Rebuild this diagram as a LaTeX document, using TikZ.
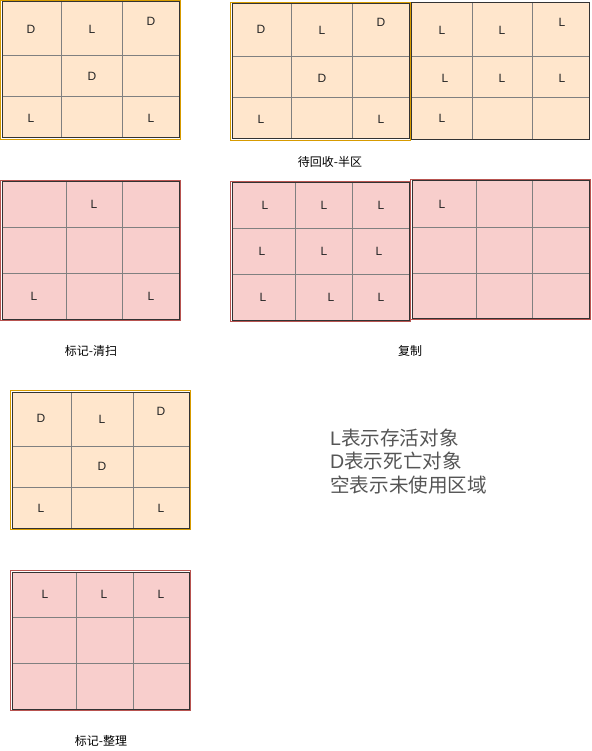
\documentclass[tikz,border=0pt]{standalone}
\usepackage{fontspec}
\setmainfont{Liberation Sans}
\newfontfamily\cjk{Noto Sans CJK SC}
\usetikzlibrary{positioning}
\definecolor{oldfill}{HTML}{FFE6CC}
\definecolor{oldedge}{HTML}{D79B00}
\definecolor{livefill}{HTML}{F8CECC}
\definecolor{liveedge}{HTML}{B85450}
\definecolor{gridgray}{HTML}{808080}
\definecolor{rimdark}{HTML}{333333}
\definecolor{keygray}{HTML}{555555}
% one heap area: fill, corners, two column lines, two row lines
\newcommand{\heap}[9]{%
	\fill[#1] (#2,#3) rectangle (#4,#5);
	\draw[gridline] (#6,#3) -- (#6,#5) (#7,#3) -- (#7,#5) (#2,#8) -- (#4,#8) (#2,#9) -- (#4,#9);
	\draw[darkrim] (#2,#3) rectangle (#4,#5);
}
\tikzset{
	gridline/.style={draw=gridgray, line width=1pt},
	darkrim/.style={draw=rimdark, line width=1pt},
	oldrim/.style={draw=oldedge, line width=1.4pt},
	liverim/.style={draw=liveedge, line width=1.4pt},
	cell/.style={inner sep=0pt, font=\fontsize{12}{12}\selectfont, text=black!85},
	caption/.style={inner sep=0pt, font=\cjk\fontsize{12}{14}\selectfont},
	keyline/.style={inner sep=0pt, anchor=west, text=keygray, font=\cjk\fontsize{19.6}{23}\selectfont}
}
\begin{document}
\begin{tikzpicture}[x=1pt, y=-1pt]
\useasboundingbox (0,0) rectangle (591,751);
% mark and sweep, before
\heap{oldfill}{2}{2}{179}{138}{61}{122}{56}{97}
\draw[oldrim] (0.7,0.7) rectangle (180.3,139.3);
\node[cell] (ms1) at (31,29) {D};
\node[cell] (ms2) at (92,29) {L};
\node[cell] (ms3) at (151,21) {D};
\node[cell] (ms4) at (92,76) {D};
\node[cell] (ms5) at (31,118) {L};
\node[cell] (ms6) at (151,118) {L};
% copying, before
\heap{oldfill}{232}{4}{409}{139}{291}{352}{57}{98}
\draw[oldrim] (230.7,2.7) rectangle (410.3,140.3);
\heap{oldfill}{411}{3}{589}{140}{472}{532}{57}{98}
\node[cell] (cpa1) at (261,29) {D};
\node[cell] (cpa2) at (322,30) {L};
\node[cell] (cpa3) at (381,22) {D};
\node[cell] (cpa4) at (322,78) {D};
\node[cell] (cpa5) at (261,119) {L};
\node[cell] (cpa6) at (381,119) {L};
\node[cell] (cpb1) at (442,30) {L};
\node[cell] (cpb2) at (502,30) {L};
\node[cell] (cpb3) at (562,22) {L};
\node[cell] (cpb4) at (445,78) {L};
\node[cell] (cpb5) at (502,78) {L};
\node[cell] (cpb6) at (562,78) {L};
\node[cell] (cpb7) at (442,118) {L};
\node[caption] (semicap) at (330,162) {待回收-半区};
% mark and sweep, after
\heap{livefill}{2}{182}{179}{319}{66}{122}{227}{273}
\draw[liverim] (0.7,180.7) rectangle (180.3,320.3);
\node[cell] (sw1) at (94,204) {L};
\node[cell] (sw2) at (34,296) {L};
\node[cell] (sw3) at (151,296) {L};
\node[caption] (sweepcap) at (91,351) {标记-清扫};
% copying, after
\heap{livefill}{232}{183}{409}{320}{295}{352}{228}{274}
\draw[liverim] (230.7,181.7) rectangle (410.3,321.3);
\heap{livefill}{412}{181}{589}{318}{476}{532}{227}{273}
\draw[liverim] (410.7,179.7) rectangle (590.3,319.3);
\node[cell] (cy1) at (265,205) {L};
\node[cell] (cy2) at (324,205) {L};
\node[cell] (cy3) at (381,205) {L};
\node[cell] (cy4) at (262,251) {L};
\node[cell] (cy5) at (324,251) {L};
\node[cell] (cy6) at (379,251) {L};
\node[cell] (cy7) at (263,297) {L};
\node[cell] (cy8) at (331,297) {L};
\node[cell] (cy9) at (381,297) {L};
\node[cell] (cy10) at (442,204) {L};
\node[caption] (copycap) at (410,351) {复制};
% mark and compact, before
\heap{oldfill}{12}{392}{189}{528}{71}{133}{446}{487}
\draw[oldrim] (10.7,390.7) rectangle (190.3,529.3);
\node[cell] (mc1) at (41,418) {D};
\node[cell] (mc2) at (102,419) {L};
\node[cell] (mc3) at (161,411) {D};
\node[cell] (mc4) at (102,466) {D};
\node[cell] (mc5) at (41,508) {L};
\node[cell] (mc6) at (161,508) {L};
% mark and compact, after
\heap{livefill}{12}{572}{189}{709}{76}{133}{617}{663}
\draw[liverim] (10.7,570.7) rectangle (190.3,710.3);
\node[cell] (cm1) at (45,594) {L};
\node[cell] (cm2) at (104,594) {L};
\node[cell] (cm3) at (161,594) {L};
\node[caption] (compactcap) at (101,741) {标记-整理};
% key
\node[keyline] (key1) at (330,438) {{\rmfamily L}表示存活对象};
\node[keyline] (key2) at (330,461) {{\rmfamily D}表示死亡对象};
\node[keyline] (key3) at (330,485) {空表示未使用区域};
\end{tikzpicture}
\end{document}
